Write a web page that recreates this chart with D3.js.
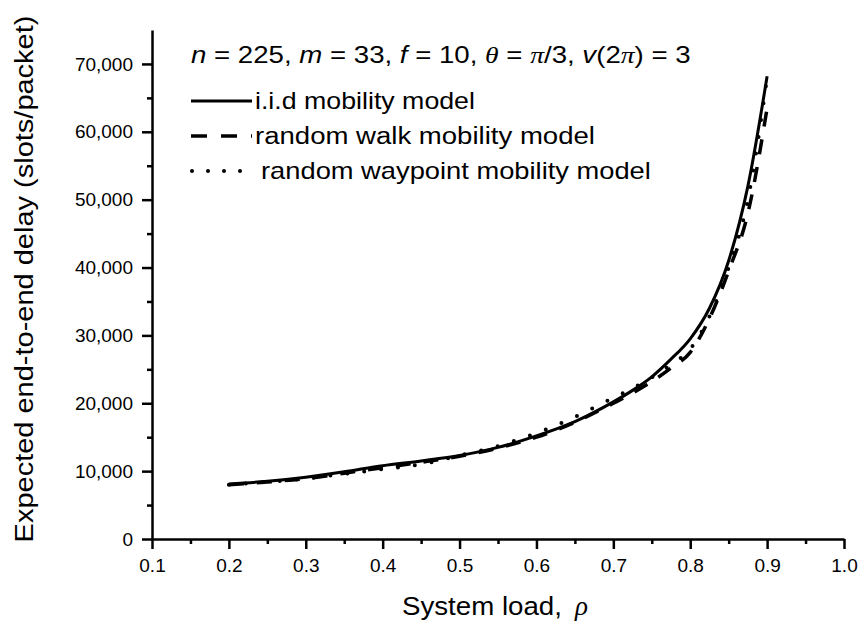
<!DOCTYPE html>
<html>
<head>
<meta charset="utf-8">
<script src="https://cdn.jsdelivr.net/npm/d3@7"></script>
<style>
  body { margin: 0; background: #fff; }
  svg text { font-family: "Liberation Sans", Arial, sans-serif; fill: #000; }
  .greek { font-family: "Liberation Serif", "Times New Roman", serif; font-style: italic; }
</style>
</head>
<body>
<svg id="chart"></svg>
<script>
// system load values (x) for each model
var rho = [0.2, 0.25, 0.3, 0.35, 0.4, 0.45, 0.5, 0.55, 0.6, 0.65, 0.7, 0.725, 0.75, 0.775, 0.8, 0.825, 0.85, 0.875, 0.9];

// expected delay, slots/packet
var iidDelay      = [8100, 8500, 9100, 9900, 10800, 11500, 12300, 13500, 15200, 17300, 20200, 21900, 23900, 26500, 29500, 34000, 41000, 52000, 68200];
var walkDelay     = [8000, 8400, 8900, 9700, 10500, 11300, 12200, 13400, 15000, 17200, 20000, 21500, 23200, 25200, 27500, 32500, 39500, 48000, 63500];
var waypointDelay = [8000, 8400, 8900, 9600, 10300, 11000, 12300, 13700, 15600, 18000, 20800, 22200, 23800, 25700, 28000, 32800, 40000, 50000, 68000];

var xTicks = [0.1, 0.2, 0.3, 0.4, 0.5, 0.6, 0.7, 0.8, 0.9, 1.0];
var yTicks = [0, 10000, 20000, 30000, 40000, 50000, 60000, 70000];

var seriesNames = ["i.i.d mobility model", "random walk mobility model", "random waypoint mobility model"];

var W = 863, H = 625;
var margin = {top: 30, right: 19, bottom: 86, left: 152},
    width = W - margin.left - margin.right,
    height = H - margin.top - margin.bottom;

var svg = d3.select("#chart")
    .attr("width", W)
    .attr("height", H);

var g = svg.append("g")
    .attr("transform", "translate(" + margin.left + "," + margin.top + ")");

var x = d3.scaleLinear().domain([0.1, 1.0]).range([0, width]);
var y = d3.scaleLinear().domain([0, 75000]).range([height, 0]);

// the original's text is wider than Liberation Sans, so stretch it to the measured width
function stretch(t, x0, y0, w) {
  var natural = t.node().getComputedTextLength();
  t.attr("x", 0).attr("y", 0)
   .attr("transform", "translate(" + x0 + "," + y0 + ") scale(" + (w / natural) + ",1)");
}

//---------- axes ----------
// minor ticks
g.append("g")
    .attr("transform", "translate(0," + height + ")")
    .call(d3.axisBottom(x).tickValues(d3.range(0.15, 1.0, 0.1)).tickSize(5).tickFormat(""))
    .call(function(s) { s.select(".domain").remove(); });
g.append("g")
    .call(d3.axisLeft(y).tickValues(d3.range(5000, 75000, 10000)).tickSize(5).tickFormat(""))
    .call(function(s) { s.select(".domain").remove(); });

var xAxis = g.append("g")
    .attr("transform", "translate(0," + height + ")")
    .call(d3.axisBottom(x).tickValues(xTicks).tickSize(10).tickSizeOuter(0).tickPadding(10)
      .tickFormat(d3.format(".1f")));
xAxis.selectAll("text").style("font-size", "19px");

var yAxis = g.append("g")
    .call(d3.axisLeft(y).tickValues(yTicks).tickSize(10).tickSizeOuter(0).tickPadding(9)
      .tickFormat(d3.format(",")));
yAxis.selectAll("text").style("font-size", "19px");

svg.selectAll(".domain, .tick line")
    .attr("stroke", "#000")
    .attr("stroke-width", 2.5);

// axis titles
var xt = svg.append("text").style("font-size", "25px").text("System load,");
stretch(xt, 402, 615, 160);
svg.append("text")
    .attr("class", "greek")
    .attr("x", 575)
    .attr("y", 615)
    .style("font-size", "27px")
    .text("\u03C1");

var yt = svg.append("text")
    .style("font-size", "25px")
    .text("Expected end-to-end delay (slots/packet)");
var ytLen = yt.node().getComputedTextLength();
yt.attr("text-anchor", "middle")
  .attr("transform", "translate(33,279) rotate(-90) scale(" + (527 / ytLen) + ",1)");

//---------- lines ----------
var line = d3.line()
    .x(function(d) { return x(d[0]); })
    .y(function(d) { return y(d[1]); })
    .curve(d3.curveMonotoneX);

function pairs(vals) { return rho.map(function(r, i) { return [r, vals[i]]; }); }

var styles = [
  {data: iidDelay, dash: null, legendDash: null, w: 3, cap: "butt"},
  {data: walkDelay, dash: "15,13", legendDash: "16,14", w: 3.5, cap: "butt"},
  {data: waypointDelay, dash: "0,17", legendDash: "0,16", w: 4, cap: "round"}
];

styles.forEach(function(s) {
  g.append("path")
    .datum(pairs(s.data))
    .attr("fill", "none")
    .attr("stroke", "#000")
    .attr("stroke-width", s.w)
    .attr("stroke-linecap", s.cap)
    .attr("stroke-dasharray", s.dash)
    .attr("d", line);
});

//---------- legend ----------
var head = svg.append("text").style("font-size", "23px");
head.append("tspan").style("font-style", "italic").text("n");
head.append("tspan").text(" = 225, ");
head.append("tspan").style("font-style", "italic").text("m");
head.append("tspan").text(" = 33, ");
head.append("tspan").style("font-style", "italic").text("f");
head.append("tspan").text(" = 10,  ");
head.append("tspan").attr("class", "greek").text("\u03B8");
head.append("tspan").text(" = ");
head.append("tspan").attr("class", "greek").text("\u03C0");
head.append("tspan").text("/3, ");
head.append("tspan").style("font-style", "italic").text("v");
head.append("tspan").text("(2");
head.append("tspan").attr("class", "greek").text("\u03C0");
head.append("tspan").text(") = 3");
stretch(head, 191, 63, 500);

var rowY = [101, 136, 171];
var textStart = [255, 255, 261];
var textWidth = [220, 340, 390];

var legend = svg.append("g")
    .selectAll("g")
    .data(seriesNames)
    .enter()
    .append("g")
    .attr("transform", function(d, i) { return "translate(0," + rowY[i] + ")"; });

legend.append("line")
    .attr("x1", function(d, i) { return i == 2 ? 192 : 191; })
    .attr("x2", 252)
    .attr("y1", 0)
    .attr("y2", 0)
    .attr("stroke", "#000")
    .attr("stroke-width", function(d, i) { return styles[i].w; })
    .attr("stroke-linecap", function(d, i) { return styles[i].cap; })
    .attr("stroke-dasharray", function(d, i) { return styles[i].legendDash; });

legend.append("text")
    .style("font-size", "23px")
    .text(function(d) { return d; })
    .each(function(d, i) { stretch(d3.select(this), textStart[i], 8, textWidth[i]); });
</script>
</body>
</html>
